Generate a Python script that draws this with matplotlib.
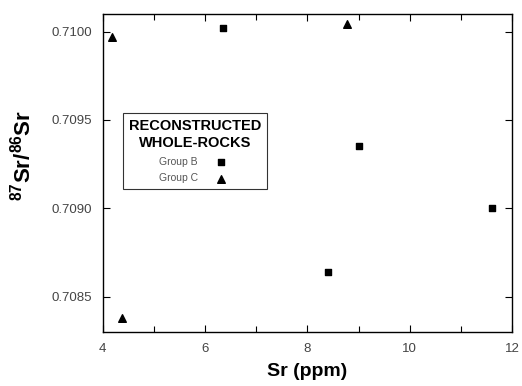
import matplotlib
matplotlib.use("Agg")
import matplotlib.pyplot as plt
from matplotlib.ticker import MultipleLocator

plt.rcParams['font.family'] = ['Liberation Sans', 'DejaVu Sans']
plt.rcParams['mathtext.fontset'] = 'custom'
plt.rcParams['mathtext.rm'] = 'Liberation Sans'
plt.rcParams['mathtext.bf'] = 'Liberation Sans:bold'
plt.rcParams['mathtext.it'] = 'Liberation Sans:italic'

groupB_sr = [6.35, 9.01, 8.40, 11.61]
groupB_ratio = [0.71002, 0.70935, 0.70864, 0.70900]
groupC_sr = [4.18, 8.78, 4.37]
groupC_ratio = [0.70997, 0.71004, 0.70838]

xticks = [4, 6, 8, 10, 12]
yticks = [0.7085, 0.7090, 0.7095, 0.7100]
ytick_labels = ['0.7085', '0.7090', '0.7095', '0.7100']

fig = plt.figure(figsize=(5.22, 3.86), dpi=100)
ax = fig.add_axes([0.197, 0.140, 0.784, 0.824])

ax.scatter(groupB_sr, groupB_ratio, marker='s', s=22, color='black', label='Group B', zorder=3)
ax.scatter(groupC_sr, groupC_ratio, marker='^', s=30, color='black', label='Group C', zorder=3)

ax.set_xlim(4, 12)
ax.set_ylim(0.70830, 0.71010)
ax.set_xticks(xticks)
ax.set_xticklabels([str(t) for t in xticks])
ax.xaxis.set_minor_locator(MultipleLocator(1))
ax.set_yticks(yticks)
ax.set_yticklabels(ytick_labels)
ax.tick_params(which='both', direction='in', top=True, right=True,
               labelsize=9.5, labelcolor='#444444', width=0.8)
ax.tick_params(which='major', length=5)
ax.tick_params(which='minor', length=4)
ax.tick_params(axis='x', pad=8)
ax.tick_params(axis='y', pad=8)
for sp in ax.spines.values():
    sp.set_linewidth(1.0)

ax.set_xlabel('Sr (ppm)', fontsize=14, fontweight='bold', labelpad=6)
fig.text(23 / 522, 1 - 155 / 386, r'$\mathbf{^{87}Sr/^{86}Sr}$', fontsize=16,
         rotation=90, ha='center', va='center')

leg = ax.legend(title='RECONSTRUCTED\nWHOLE-ROCKS', loc='upper left',
                bbox_to_anchor=(0.049, 0.689), markerfirst=False,
                frameon=True, fancybox=False, edgecolor='black',
                fontsize=7.5, title_fontproperties={'weight': 'bold', 'size': 10.5},
                handletextpad=1.2, borderpad=0.55, labelspacing=0.65,
                alignment='center', borderaxespad=0)
leg.get_title().set_multialignment('center')
leg.get_title().set_linespacing(1.3)
leg.get_frame().set_linewidth(0.8)
for t in leg.get_texts():
    t.set_color('#555555')

fig.savefig('out.png', dpi=100)
